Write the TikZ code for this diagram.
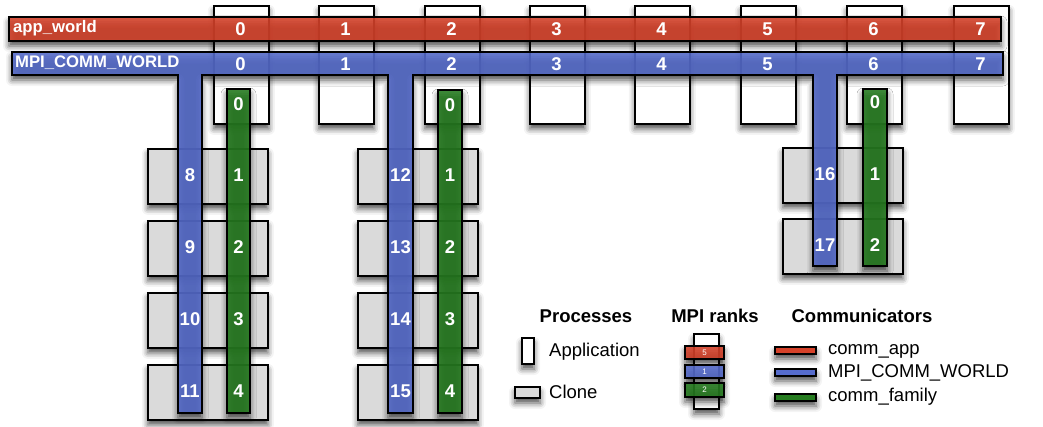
\documentclass[tikz,border=0pt]{standalone}
\usepackage{fontspec}
\setmainfont{Liberation Sans}
\usetikzlibrary{shadows.blur}
\definecolor{cred}{RGB}{214,66,42}
\definecolor{cblue}{RGB}{86,108,204}
\definecolor{cgreen}{RGB}{38,124,32}
\definecolor{cgray}{RGB}{218,218,218}
\begin{document}
\begin{tikzpicture}[x=1pt,y=-1pt,
  shad/.style={blur shadow={shadow blur radius=6pt, shadow xshift=0pt, shadow yshift=-5pt, shadow opacity=70}},
  appbox/.style={draw=black, line width=1.7pt, fill=white, inner sep=0pt, anchor=north west, minimum width=55pt, minimum height=118pt, shad},
  clonebox/.style={draw=black, line width=1.7pt, fill=cgray, inner sep=0pt, anchor=north west, minimum width=120pt, minimum height=55pt, shad},
  bar/.style={draw=black, line width=1.7pt, fill opacity=0.88, shad},
  num/.style={text=white, font=\bfseries\fontsize{18.5}{19}\selectfont, inner sep=0pt},
  barlbl/.style={text=white, font=\bfseries\fontsize{16.7}{17}\selectfont, inner sep=0pt, anchor=west},
  head/.style={font=\bfseries\fontsize{18.5}{19}\selectfont, inner sep=0pt},
  legtxt/.style={font=\fontsize{18.5}{19}\selectfont, inner sep=0pt, anchor=west},
  tiny/.style={text=white, font=\fontsize{8}{8}\selectfont, inner sep=0pt},
  legbar/.style={draw=black, line width=1.7pt, shad}
]
\useasboundingbox (0,0) rectangle (1043,427);
% application processes
\foreach \i/\x in {0/213,1/318,2/424,3/529,4/634,5/740,6/846,7/953} \node[appbox] (app\i) at (\x,5) {};
% clone processes
\foreach \r/\y in {1/148,2/220,3/292,4/364} {
  \node[clonebox] (ca\r) at (147,\y) {};
  \node[clonebox] (cb\r) at (357,\y) {};
}
\node[clonebox] (cc1) at (782,147) {};
\node[clonebox] (cc2) at (782,218) {};
% red communicator
\draw[bar, fill=cred] (9,17) rectangle (1001,41);
% blue communicator (T shape)
\draw[bar, fill=cblue] (12,52) -- (1003,52) -- (1003,75) -- (837,75) -- (837,266) -- (813,266) -- (813,75)
  -- (413,75) -- (413,413) -- (388,413) -- (388,75) -- (202,75) -- (202,413) -- (178,413) -- (178,75)
  -- (12,75) -- cycle;
% green communicators
\draw[bar, fill=cgreen] (227,89) rectangle (250,413);
\draw[bar, fill=cgreen] (438,90) rectangle (462,413);
\draw[bar, fill=cgreen] (863,89) rectangle (887,266);
% labels
\node[barlbl] (appw) at (13,28) {app\_world};
\node[barlbl] (mcw) at (15,63) {MPI\_COMM\_WORLD};
\foreach \i/\x in {0/240.5,1/345.5,2/451.5,3/556.5,4/661.5,5/767.5,6/873.5,7/980.5} {
  \node[num] (r\i) at (\x,29) {\i};
  \node[num] (b\i) at (\x,64) {\i};
}
\foreach \r/\y/\n/\m in {1/175.5/8/12,2/247.5/9/13,3/319.5/10/14,4/391.5/11/15} {
  \node[num] (sa\r) at (190,\y) {\n};
  \node[num] (sb\r) at (400.5,\y) {\m};
  \node[num] (ga\r) at (238.5,\y) {\r};
  \node[num] (gb\r) at (450,\y) {\r};
}
\node[num] (ga0) at (238.5,104) {0};
\node[num] (gb0) at (450,105) {0};
\node[num] (gc0) at (875,102) {0};
\node[num] (sc1) at (825,174.5) {16};
\node[num] (sc2) at (825,245.5) {17};
\node[num] (gc1) at (875,174.5) {1};
\node[num] (gc2) at (875,245.5) {2};
% legend
\node[head] (hproc) at (586,316) {Processes};
\node[head] (hrank) at (715,316) {MPI ranks};
\node[head] (hcomm) at (862,316) {Communicators};
\node[draw=black, line width=1.7pt, fill=white, inner sep=0pt, minimum width=12pt, minimum height=26pt, shad] (lapp) at (528,351) {};
\node[legtxt] (tapp) at (549,352) {Application};
\node[draw=black, line width=1.7pt, fill=cgray, inner sep=0pt, minimum width=25pt, minimum height=11pt, shad] (lclone) at (527.5,392.5) {};
\node[legtxt] (tclone) at (549,392) {Clone};
\node[draw=black, line width=1.7pt, fill=white, inner sep=0pt, minimum width=25pt, minimum height=75pt, shad] (lrank) at (706.5,371.5) {};
\draw[legbar, fill=cred, fill opacity=0.88] (685,346) rectangle (724,359);
\draw[legbar, fill=cblue, fill opacity=0.88] (685,365) rectangle (724,378);
\draw[legbar, fill=cgreen, fill opacity=0.88] (685,383) rectangle (724,397);
\node[tiny] (k5) at (704.5,352.5) {5};
\node[tiny] (k1) at (704.5,371.5) {1};
\node[tiny] (k2) at (704.5,390) {2};
\draw[legbar, fill=cred] (775,347) rectangle (816,354);
\draw[legbar, fill=cblue] (775,369) rectangle (816,376);
\draw[legbar, fill=cgreen] (775,394) rectangle (816,401);
\node[legtxt] (tc1) at (828,351) {comm\_app};
\node[legtxt] (tc2) at (828,373) {MPI\_COMM\_WORLD};
\node[legtxt] (tc3) at (828,397) {comm\_family};
\end{tikzpicture}
\end{document}
